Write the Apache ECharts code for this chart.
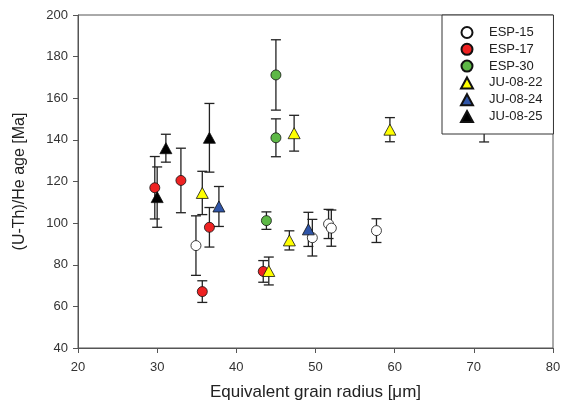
<!DOCTYPE html>
<html>
<head>
<meta charset="utf-8">
<script src="https://cdn.jsdelivr.net/npm/echarts@6/dist/echarts.min.js"></script>
<style>
  html, body { margin: 0; padding: 0; background: #fff; }
  #chart { width: 571px; height: 410px; }
</style>
</head>
<body>
<div id="chart"></div>
<script>
// samples, each point is [radius, age, 1 sigma error]
const sampleNames = ['ESP-15', 'ESP-17', 'ESP-30', 'JU-08-22', 'JU-08-24', 'JU-08-25']
const esp15 = [[34.9, 89.2, 14.3], [49.6, 93, 8.8], [51.65, 99.6, 7], [52.0, 97.6, 8.7], [57.7, 96.4, 5.7], [71.3, 150, 11]]
const esp17 = [[29.7, 117, 15], [33.0, 120.5, 15.5], [36.6, 98, 9.5], [35.7, 67.1, 5.2], [43.4, 76.8, 5.2]]
const esp30 = [[45.0, 171.2, 16.9], [45.0, 141, 9.1], [43.8, 101.2, 4.2]]
const ju0822 = [[35.7, 114.5, 10.4], [47.3, 143.2, 8.6], [46.7, 91.7, 4.6], [44.1, 77, 6.7], [59.4, 144.9, 5.8]]
const ju0824 = [[37.8, 108, 9.6], [49.1, 97, 8.2]]
const ju0825 = [[31.1, 136, 6.7], [30.0, 112.5, 14.5], [36.6, 141, 16.5]]
const xTicks = [20, 30, 40, 50, 60, 70, 80]
const yTicks = [40, 60, 80, 100, 120, 140, 160, 180, 200]

const allSamples = [esp15, esp17, esp30, ju0822, ju0824, ju0825]
const colors = ['#ffffff', '#ee2222', '#5db846', '#ffff00', '#2f55a8', '#000000']
const symbols = ['circle', 'circle', 'circle', 'triangle', 'triangle', 'triangle']

let chart = echarts.init(document.getElementById('chart'))

// error bars for every point, drawn under the markers
let errData = []
allSamples.forEach(s => s.forEach(p => errData.push([p[0], p[1] - p[2], p[1] + p[2]])))

let series = [{
    type: 'custom',
    name: 'err',
    silent: true,
    z: 1,
    data: errData,
    encode: { x: 0, y: [1, 2] },
    renderItem: function (params, api) {
        let lo = api.coord([api.value(0), api.value(1)])
        let hi = api.coord([api.value(0), api.value(2)])
        let w = 5
        let st = { stroke: '#222', lineWidth: 1.3 }
        return {
            type: 'group',
            children: [
                { type: 'line', shape: { x1: lo[0], y1: lo[1], x2: hi[0], y2: hi[1] }, style: st },
                { type: 'line', shape: { x1: lo[0] - w, y1: lo[1], x2: lo[0] + w, y2: lo[1] }, style: st },
                { type: 'line', shape: { x1: hi[0] - w, y1: hi[1], x2: hi[0] + w, y2: hi[1] }, style: st }
            ]
        }
    }
}]

sampleNames.forEach((name, i) => {
    series.push({
        type: 'scatter',
        name: name,
        z: 3,
        data: allSamples[i].map(p => [p[0], p[1]]),
        symbol: symbols[i],
        symbolSize: symbols[i] === 'circle' ? 10 : [12, 11],
        itemStyle: { color: colors[i], borderColor: '#111', borderWidth: 0.8, opacity: 1 },
        emphasis: { disabled: true }
    })
})

let options = {
    animation: false,
    textStyle: { fontFamily: 'Liberation Sans, Arial, sans-serif' },
    grid: {
        left: 78, right: 18, top: 15, bottom: 62,
        show: true, borderColor: '#555', borderWidth: 1
    },
    legend: {
        orient: 'vertical',
        left: 442,
        top: 15,
        data: sampleNames,
        backgroundColor: '#fff',
        borderColor: '#333',
        borderWidth: 1,
        padding: [11, 11, 11, 18],
        itemWidth: 12,
        itemHeight: 11,
        itemGap: 3.8,
        z: 10,
        textStyle: { fontSize: 13, color: '#222', padding: [0, 0, 0, 11], fontFamily: 'Liberation Sans, Arial, sans-serif' }
    },
    xAxis: {
        type: 'value',
        min: xTicks[0],
        max: xTicks[xTicks.length - 1],
        interval: 10,
        name: 'Equivalent grain radius [μm]',
        nameLocation: 'middle',
        nameGap: 36,
        nameTextStyle: { fontSize: 17, color: '#222' },
        splitLine: { show: false },
        axisLine: { lineStyle: { color: '#555' } },
        axisTick: { length: 5, lineStyle: { color: '#555' } },
        axisLabel: { fontSize: 13, color: '#333', margin: 13 }
    },
    yAxis: {
        type: 'value',
        min: yTicks[0],
        max: yTicks[yTicks.length - 1],
        interval: 20,
        name: '(U-Th)/He age [Ma]',
        nameLocation: 'middle',
        nameGap: 50,
        nameTextStyle: { fontSize: 16, color: '#222' },
        splitLine: { show: false },
        axisLine: { lineStyle: { color: '#555' } },
        axisTick: { length: 5, lineStyle: { color: '#555' } },
        axisLabel: { fontSize: 13, color: '#333', margin: 10 }
    },
    series: series
}
options && chart.setOption(options)
</script>
</body>
</html>
